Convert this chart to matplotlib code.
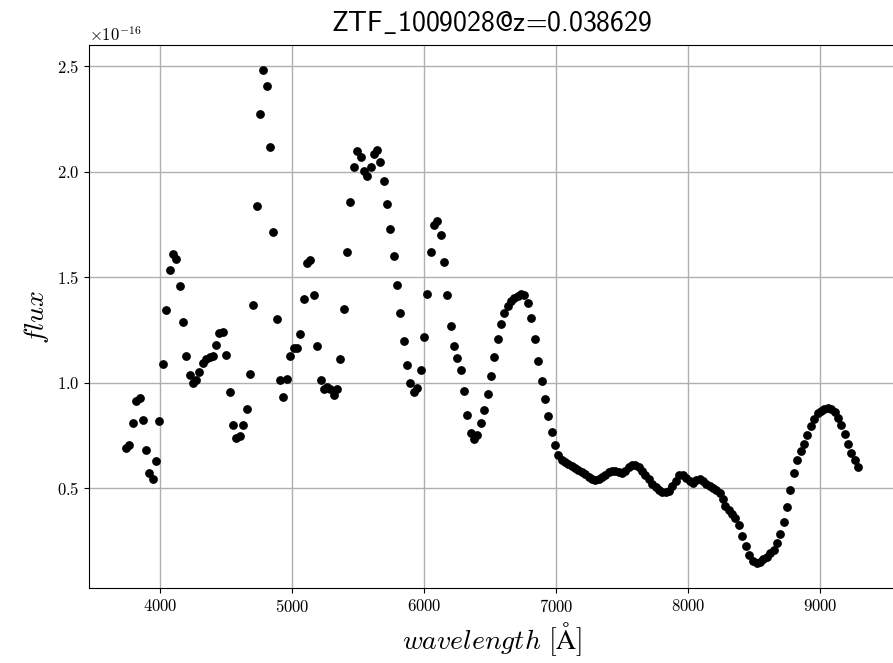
# %% imports
import matplotlib
matplotlib.use('Agg')
import matplotlib.pyplot as plt

# %% data (flux in units of 1e-16)
name = 'ZTF_1009028'
redshift = 0.038629
fluxScale = 1e-16

wlBlue = [
  3743, 3768, 3794, 3821, 3846, 3869, 3894, 3919, 3945, 3970,
  3995, 4023, 4048, 4073, 4098, 4123, 4149, 4174, 4199, 4225,
  4250, 4275, 4300, 4325, 4350, 4376, 4401, 4426, 4451, 4476,
  4502, 4530, 4554, 4580, 4605, 4630, 4656, 4681, 4706, 4734,
  4756, 4781, 4809, 4835, 4860, 4885, 4910, 4935, 4960, 4986,
  5014, 5039, 5061, 5089, 5114, 5139, 5165, 5190, 5216, 5241,
  5266, 5291, 5316, 5341, 5367, 5392, 5417, 5442, 5470, 5496,
  5520, 5545, 5571, 5596, 5621, 5646, 5668, 5694, 5719, 5744,
  5769, 5794, 5820, 5846, 5871, 5896, 5921, 5946, 5974, 5999,
  6024, 6050, 6074, 6099, 6126, 6150, 6176, 6201, 6226, 6251,
  6277, 6302, 6327, 6352, 6377, 6403, 6430, 6456, 6481, 6506,
  6532, 6557, 6582, 6607, 6633, 6657, 6683, 6708, 6733, 6759,
  6785, 6811, 6839, 6864, 6889, 6914, 6940, 6965, 6990, 7016,
]
fluxBlue = [
  0.691, 0.707, 0.809, 0.913, 0.929, 0.825, 0.681, 0.571, 0.546, 0.628,
  0.822, 1.088, 1.348, 1.534, 1.613, 1.586, 1.460, 1.288, 1.130, 1.036,
  1.000, 1.012, 1.052, 1.094, 1.115, 1.121, 1.130, 1.179, 1.238, 1.241,
  1.132, 0.955, 0.801, 0.738, 0.747, 0.801, 0.878, 1.044, 1.371, 1.840,
  2.274, 2.484, 2.407, 2.120, 1.717, 1.305, 1.012, 0.933, 1.017, 1.129,
  1.165, 1.165, 1.230, 1.400, 1.569, 1.584, 1.417, 1.176, 1.012, 0.969,
  0.979, 0.969, 0.941, 0.969, 1.115, 1.352, 1.619, 1.856, 2.024, 2.098,
  2.070, 2.005, 1.980, 2.022, 2.083, 2.103, 2.049, 1.958, 1.848, 1.728,
  1.600, 1.466, 1.332, 1.201, 1.085, 1.000, 0.957, 0.978, 1.063, 1.217,
  1.423, 1.622, 1.747, 1.766, 1.703, 1.575, 1.417, 1.269, 1.175, 1.119,
  1.061, 0.962, 0.850, 0.763, 0.736, 0.755, 0.809, 0.872, 0.948, 1.034,
  1.123, 1.208, 1.277, 1.330, 1.367, 1.388, 1.402, 1.413, 1.422, 1.416,
  1.379, 1.307, 1.209, 1.104, 1.011, 0.922, 0.844, 0.768, 0.705, 0.661,
]

wlMid = [
  7041, 7067, 7092, 7118, 7143, 7168, 7194, 7219, 7245, 7270,
  7295, 7321, 7346, 7372, 7397, 7422, 7448, 7473, 7499, 7524,
  7549, 7575, 7600, 7626, 7651, 7676, 7702, 7727, 7753, 7778,
  7803, 7829, 7854, 7880, 7905, 7930,
]
fluxMid = [
  0.635, 0.624, 0.614, 0.606, 0.598, 0.589, 0.579, 0.568, 0.555, 0.547,
  0.541, 0.546, 0.555, 0.566, 0.576, 0.581, 0.582, 0.578, 0.574, 0.585,
  0.600, 0.611, 0.610, 0.600, 0.585, 0.565, 0.543, 0.522, 0.505, 0.492,
  0.484, 0.481, 0.490, 0.510, 0.537, 0.565,
]

wlRed = [
  7959, 7984, 8010, 8036, 8060, 8086, 8112, 8137, 8163, 8188,
  8213, 8239, 8259, 8280, 8305, 8331, 8356, 8381, 8407, 8437,
  8463, 8489, 8519, 8544, 8569, 8595, 8620, 8646, 8672, 8697,
  8723, 8748, 8773, 8799, 8825, 8850, 8876, 8902, 8927, 8953,
  8979, 9004, 9030, 9055, 9081, 9107, 9132, 9158, 9184, 9209,
  9235, 9261, 9286,
]
fluxRed = [
  0.566, 0.549, 0.535, 0.527, 0.538, 0.543, 0.535, 0.522, 0.511, 0.501,
  0.495, 0.479, 0.452, 0.415, 0.396, 0.378, 0.362, 0.327, 0.276, 0.228,
  0.185, 0.158, 0.145, 0.153, 0.164, 0.177, 0.193, 0.209, 0.240, 0.283,
  0.339, 0.414, 0.495, 0.573, 0.633, 0.678, 0.713, 0.754, 0.796, 0.831,
  0.858, 0.867, 0.875, 0.881, 0.877, 0.861, 0.836, 0.801, 0.756, 0.710,
  0.670, 0.633, 0.602,
]

wavelength = wlBlue + wlMid + wlRed
flux = [ f * fluxScale for f in fluxBlue + fluxMid + fluxRed ]

# %% plot
plt.rcParams['font.family'] = 'cmr10'
plt.rcParams['mathtext.fontset'] = 'cm'
plt.rcParams['axes.formatter.use_mathtext'] = True
plt.rcParams['axes.unicode_minus'] = False

fig = plt.figure(figsize=(8.93, 6.63), dpi=100)
ax = fig.add_axes([0.1, 0.113, 0.902, 0.819])

ax.scatter(wavelength, flux, s=28, color='k', zorder=3)
ax.grid(True, color='#b0b0b0', linewidth=1)
ax.set_axisbelow(True)

ax.tick_params(labelsize=12)
ax.yaxis.get_offset_text().set_fontsize(12)
ax.set_xlabel(r'$wavelength\ [\mathrm{\AA}]$', fontsize=20)
ax.set_ylabel(r'$flux$', fontsize=20)

# cmss10 has no underscore glyph, so draw that one through mathtext
title = name.replace('_', r'$\_$') + f'@z={redshift}'
ax.set_title(title, fontsize=20, family='cmss10', pad=10)

fig.savefig('out.png', dpi=100)
